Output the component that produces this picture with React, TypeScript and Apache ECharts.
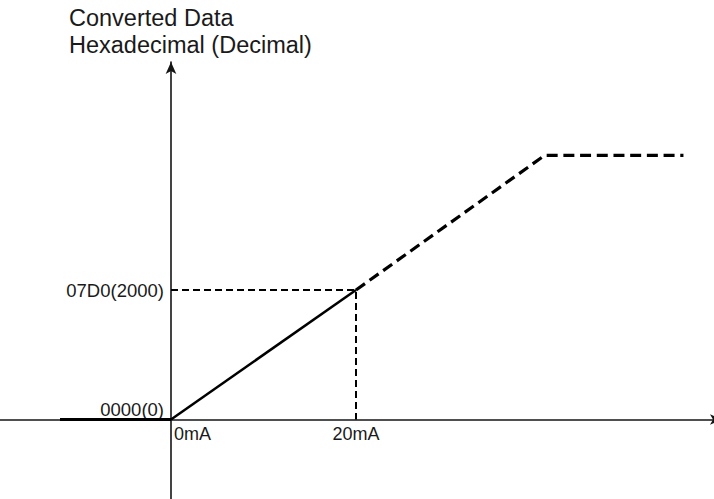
import React, { useEffect, useRef } from "react";
import * as echarts from "echarts";

// Input current (mA) vs converted value
const belowRangeX = [-12, 0];
const belowRangeY = [0, 0];
const linearX = [0, 20];
const linearY = [0, 2000];
const extendedX = [20, 40.4, 55.4];
const extendedY = [2000, 4080, 4080];
const guideX = [0, 20, 20];
const guideY = [2000, 2000, 0];

const xTickValues = [0, 20];
const xTickLabels = ["0mA", "20mA"];
const yTickValues = [0, 2000];
const yTickLabels = ["0000(0)", "07D0(2000)"];

const titleLines = ["Converted Data", "Hexadecimal (Decimal)"];

const FONT = "'Liberation Sans', Arial, Helvetica, sans-serif";

const zip = (xs: number[], ys: number[]) => xs.map((x, i) => [x, ys[i]]);

export default function App() {
  const ref = useRef<HTMLDivElement>(null);
  useEffect(() => {
    if (!ref.current) return;
    const chart = echarts.init(ref.current, null, { renderer: "svg" });
    const axisColor = "#151515";
    const H = 499;
    const gridTop = 62;
    const gridRight = -8;
    const gridW = 714 - gridRight;
    const gridH = H - gridTop;
    const originX = 171;
    const originY = 419.5;
    const pxPerX = 9.25;
    const pxPerY = 0.06475;
    const xMin = -originX / pxPerX;
    const xMax = (gridW - originX) / pxPerX;
    const yMax = (originY - gridTop) / pxPerY;
    const yMin = -(H - originY) / pxPerY;
    // offsets that place each axis at the other's zero
    const yAxisOffset = -originX;
    const xAxisOffset = -(H - originY);
    chart.setOption({
      animation: false,
      backgroundColor: "#ffffff",
      title: {
        text: titleLines.join("\n"),
        left: 69,
        top: 4,
        padding: 0,
        textStyle: {
          fontFamily: FONT,
          fontSize: 23.5,
          fontWeight: "normal",
          color: "#1a1a1a",
          lineHeight: 27.5,
        },
      },
      grid: {
        left: 0,
        right: gridRight,
        top: gridTop,
        bottom: 0,
        containLabel: false,
        outerBoundsMode: "none",
      },
      xAxis: {
        type: "value",
        position: "bottom",
        offset: xAxisOffset,
        min: xMin,
        max: xMax,
        splitLine: { show: false },
        axisTick: { show: false },
        axisLine: {
          onZero: false,
          symbol: ["none", "arrow"],
          symbolSize: [8, 12],
          lineStyle: { color: axisColor, width: 1.6 },
        },
        axisLabel: {
          customValues: xTickValues,
          margin: 5,
          fontFamily: FONT,
          fontSize: 18,
          color: "#1a1a1a",
          formatter: (v: number) => {
            const i = xTickValues.indexOf(v);
            const t = i >= 0 ? xTickLabels[i] : "";
            return v === 0 ? `{first|${t}}` : t;
          },
          rich: {
            first: {
              fontFamily: FONT,
              fontSize: 18,
              color: "#1a1a1a",
              padding: [0, 0, 0, 43],
            },
          },
        },
      },
      yAxis: {
        type: "value",
        position: "left",
        offset: yAxisOffset,
        min: yMin,
        max: yMax,
        splitLine: { show: false },
        axisTick: { show: false },
        axisLine: {
          onZero: false,
          symbol: ["none", "arrow"],
          symbolSize: [8, 12],
          lineStyle: { color: axisColor, width: 1.6 },
        },
        axisLabel: {
          customValues: yTickValues,
          margin: 7,
          fontFamily: FONT,
          fontSize: 18.5,
          color: "#1a1a1a",
          formatter: (v: number) => {
            const i = yTickValues.indexOf(v);
            const t = i >= 0 ? yTickLabels[i] : "";
            return v === 0 ? `{low|${t}}` : t;
          },
          rich: {
            low: {
              fontFamily: FONT,
              fontSize: 18.5,
              color: "#1a1a1a",
              padding: [0, 0, 21, 0],
            },
          },
        },
      },
      series: [
        {
          name: "guide",
          type: "line",
          data: zip(guideX, guideY),
          symbol: "none",
          z: 1,
          lineStyle: { color: "#000", width: 2, type: [7, 4] },
        },
        {
          name: "below",
          type: "line",
          data: zip(belowRangeX, belowRangeY),
          symbol: "none",
          z: 3,
          lineStyle: { color: "#000", width: 3 },
        },
        {
          name: "linear",
          type: "line",
          data: zip(linearX, linearY),
          symbol: "none",
          z: 3,
          lineStyle: { color: "#000", width: 2.5 },
        },
        {
          name: "extended",
          type: "line",
          data: zip(extendedX, extendedY),
          symbol: "none",
          z: 3,
          lineStyle: { color: "#000", width: 3.2, type: [11, 5.7] },
        },
      ],
    });
    return () => chart.dispose();
  }, []);
  return (
    <div
      ref={ref}
      style={{ position: "absolute", left: 0, top: 0, width: 714, height: 499 }}
    />
  );
}
